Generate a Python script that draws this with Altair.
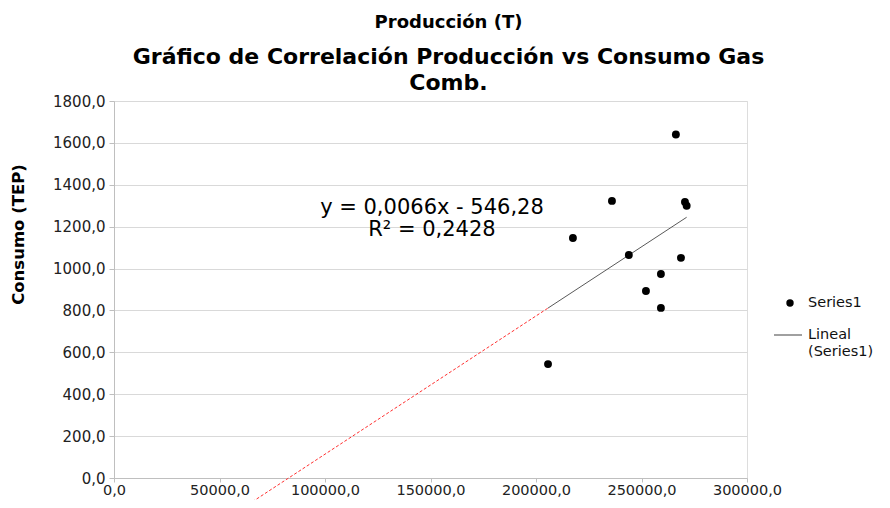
import altair as alt
import pandas as pd

# Data
produccion = [266300, 236000, 270600, 271400, 217500, 244000, 268700, 259200, 252100, 259200, 205700]
consumo = [1640, 1323, 1318, 1300, 1146, 1065, 1051, 974, 893, 812, 544]

# Linear trend shown on the chart: y = 0,0066x - 546,28 (backward forecast 150000)
slope = 0.0066
intercept = -546.28
trend_x = [205700, 271400]
back_x = [55700, 205700]

eq_lines = ["y = 0,0066x - 546,28", "R² = 0,2428"]
eq_x = [150700, 150700]
eq_y = [1289, 1184]

x_ticks = [0, 50000, 100000, 150000, 200000, 250000, 300000]
y_ticks = [0, 200, 400, 600, 800, 1000, 1200, 1400, 1600, 1800]

legend_point_label = "Series1"
legend_line_label = ["Lineal", "(Series1)"]

FONT = "DejaVu Sans"
fmt = "replace(format(datum.value, '.1f'), '.', ',')"

pts = pd.DataFrame({"x": produccion, "y": consumo})
trend = pd.DataFrame({"x": trend_x, "y": [slope * v + intercept for v in trend_x]})
back = pd.DataFrame({"x": back_x, "y": [slope * v + intercept for v in back_x]})
eq = pd.DataFrame({"x": eq_x, "y": eq_y, "t": eq_lines})

xscale = alt.Scale(domain=[0, 300000], nice=False)
yscale = alt.Scale(domain=[0, 1800], nice=False)

xaxis = alt.Axis(values=x_ticks, labelExpr=fmt, grid=False, title=None, labelFlush=False,
                 domainColor="#bfbfbf", tickColor="#bfbfbf", tickSize=4,
                 labelFont=FONT, labelFontSize=14.5, labelColor="#222222", labelPadding=1)
yaxis = alt.Axis(values=y_ticks, labelExpr=fmt, grid=True, gridColor="#d9d9d9",
                 title="Consumo (TEP)", titleFont=FONT, titleFontSize=16.5, titleFontWeight="bold",
                 titleColor="black", titleX=-96, titleY=133, titleAngle=270,
                 titleAlign="center", titleBaseline="middle",
                 domainColor="#bfbfbf", tickColor="#bfbfbf", tickSize=5,
                 labelFont=FONT, labelFontSize=15, labelColor="#222222", labelPadding=4)

points = alt.Chart(pts).mark_point(filled=True, shape="circle", size=62, color="black", opacity=1).encode(
    x=alt.X("x:Q", scale=xscale, axis=xaxis),
    y=alt.Y("y:Q", scale=yscale, axis=yaxis),
)

back_line = alt.Chart(back).mark_line(color="#ff3030", strokeWidth=1, strokeDash=[3, 2]).encode(
    x=alt.X("x:Q", scale=xscale), y=alt.Y("y:Q", scale=yscale))

trend_line = alt.Chart(trend).mark_line(color="#595959", strokeWidth=1).encode(
    x=alt.X("x:Q", scale=xscale), y=alt.Y("y:Q", scale=yscale))

eq_text = alt.Chart(eq).mark_text(font=FONT, fontSize=21, color="black", align="center", baseline="middle").encode(
    x=alt.X("x:Q", scale=xscale), y=alt.Y("y:Q", scale=yscale), text="t:N")

one = pd.DataFrame({"t": [legend_point_label]})
leg_pt = alt.Chart(one).mark_point(filled=True, shape="circle", size=55, color="black", opacity=1).encode(
    x=alt.value(676), y=alt.value(202))
leg_pt_txt = alt.Chart(one).mark_text(font=FONT, fontSize=14.5, align="left", baseline="middle", color="#111111").encode(
    x=alt.value(694), y=alt.value(202), text="t:N")
leg_rule = alt.Chart(one).mark_rule(color="#808080", strokeWidth=1.5).encode(
    x=alt.value(660), x2=alt.value(688), y=alt.value(234))
leg_line_txt = alt.Chart(pd.DataFrame({"t": legend_line_label, "yy": [234, 251]})).mark_text(
    font=FONT, fontSize=14.5, align="left", baseline="middle", color="#111111").encode(
    x=alt.value(694), y=alt.Y("yy:Q", scale=None), text="t:N")

chart = alt.layer(back_line, trend_line, points, eq_text, leg_pt, leg_pt_txt, leg_rule, leg_line_txt).properties(
    width=633, height=377,
    autosize=alt.AutoSizeParams(type="none"),
    padding={"left": 106, "top": 93, "right": 133, "bottom": 22},
    title=alt.TitleParams(
        text="Producción (T)",
        subtitle=["Gráfico de Correlación Producción vs Consumo Gas", "Comb."],
        font=FONT, fontSize=18, fontWeight="bold", color="black",
        subtitleFont=FONT, subtitleFontSize=22, subtitleFontWeight="bold", subtitleColor="black",
        subtitleLineHeight=26, subtitlePadding=15,
        anchor="middle", dx=18, offset=0,
    ),
).configure_view(stroke=None).configure(background="white")

chart.save("out.html", embed_options={"renderer": "svg", "actions": False})
